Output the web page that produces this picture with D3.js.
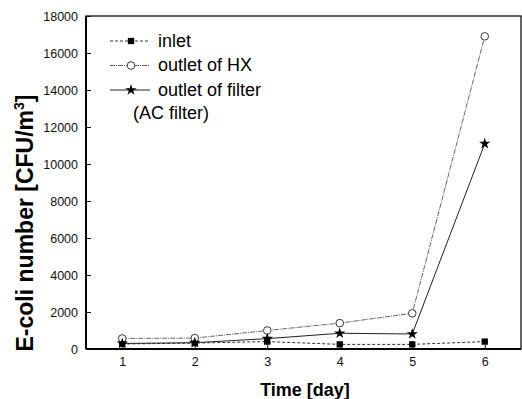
<!DOCTYPE html>
<html>
<head>
<meta charset="utf-8">
<script src="https://cdn.jsdelivr.net/npm/d3@7"></script>
<style>
  body { margin: 0; background: #fff; }
  svg { font-family: Arial, "Liberation Sans", sans-serif; }
</style>
</head>
<body>
<svg id="chart" width="522" height="399"></svg>
<script>
// data
var days = [1, 2, 3, 4, 5, 6];
var inlet = [270, 320, 400, 250, 250, 400];
var outletHX = [570, 590, 1000, 1400, 1930, 16900];
var outletFilter = [300, 340, 560, 850, 810, 11100];
var yTicks = [0, 2000, 4000, 6000, 8000, 10000, 12000, 14000, 16000, 18000];

var svg = d3.select("#chart");

var plotLeft = 86, plotRight = 521, plotTop = 16, plotBottom = 349;

var x = d3.scaleLinear().domain([0.5, 6.5]).range([plotLeft, plotRight]);
var y = d3.scaleLinear().domain([0, 18000]).range([plotBottom, plotTop]);

// frame
svg.append("rect")
    .attr("x", plotLeft).attr("y", plotTop)
    .attr("width", plotRight - plotLeft).attr("height", plotBottom - plotTop)
    .attr("fill", "none").attr("stroke", "#111").attr("stroke-width", 1.3);
svg.append("line")
    .attr("x1", plotLeft).attr("x2", plotLeft).attr("y1", plotTop).attr("y2", plotBottom)
    .attr("stroke", "#000").attr("stroke-width", 2);
svg.append("line")
    .attr("x1", plotLeft).attr("x2", plotRight).attr("y1", plotBottom).attr("y2", plotBottom)
    .attr("stroke", "#000").attr("stroke-width", 2);

// axes
var yAxis = svg.append("g")
    .attr("transform", "translate(" + plotLeft + ",0)")
    .call(d3.axisLeft(y).tickValues(yTicks).tickSize(-5).tickPadding(8).tickFormat(d3.format("d")));
yAxis.select(".domain").remove();
yAxis.selectAll("text").attr("font-size", 12.5).attr("fill", "#111").attr("font-family", "Arial, sans-serif");
yAxis.selectAll("line").attr("stroke", "#111");

var xAxis = svg.append("g")
    .attr("transform", "translate(0," + plotBottom + ")")
    .call(d3.axisBottom(x).tickValues(days).tickSize(-4).tickPadding(8).tickFormat(d3.format("d")));
xAxis.select(".domain").remove();
xAxis.selectAll("text").attr("font-size", 12.5).attr("fill", "#111").attr("font-family", "Arial, sans-serif");
xAxis.selectAll("line").attr("stroke", "#111");

// axis titles
svg.append("text")
    .attr("x", 305).attr("y", 396)
    .attr("text-anchor", "middle")
    .attr("font-size", 18).attr("font-weight", "bold")
    .text("Time [day]");

var yt = svg.append("text")
    .attr("transform", "translate(33,223) rotate(-90)")
    .attr("text-anchor", "middle")
    .attr("font-size", 23).attr("font-weight", "bold");
yt.append("tspan").text("E-coli number [CFU/m");
yt.append("tspan").attr("font-size", 14).attr("dy", -9).text("3");
yt.append("tspan").attr("dy", 9).text("]");

var series = [
    { name: "inlet", values: inlet, dash: "3,2", color: "#333", width: 1, marker: "square" },
    { name: "outlet of HX", values: outletHX, dash: "5,1,1,1", color: "#555", width: 0.9, marker: "circle" },
    { name: "outlet of filter", values: outletFilter, dash: null, color: "#222", width: 1, marker: "star" }
];

var line = d3.line()
    .x(function (d, i) { return x(days[i]); })
    .y(function (d) { return y(d); });

function drawMarker(g, type) {
    if (type === "square") {
        g.append("path").attr("d", d3.symbol(d3.symbolSquare, 40)()).attr("fill", "#000");
    } else if (type === "circle") {
        g.append("circle").attr("r", 3.8).attr("fill", "#fff").attr("stroke", "#222").attr("stroke-width", 0.9);
    } else {
        g.append("path").attr("d", d3.symbol(d3.symbolStar, 40)()).attr("fill", "#000");
    }
}

series.forEach(function (s) {
    svg.append("path")
        .datum(s.values)
        .attr("d", line)
        .attr("fill", "none")
        .attr("stroke", s.color)
        .attr("stroke-width", s.width)
        .attr("stroke-dasharray", s.dash);
});

series.forEach(function (s) {
    s.values.forEach(function (v, i) {
        var g = svg.append("g").attr("transform", "translate(" + x(days[i]) + "," + y(v) + ")");
        drawMarker(g, s.marker);
    });
});

// legend
var legendY = [41, 65.5, 90];
series.forEach(function (s, i) {
    var g = svg.append("g").attr("transform", "translate(0," + legendY[i] + ")");
    g.append("line")
        .attr("x1", 110).attr("x2", 150).attr("y1", 0).attr("y2", 0)
        .attr("stroke", s.color).attr("stroke-width", s.width)
        .attr("stroke-dasharray", s.dash);
    var m = g.append("g").attr("transform", "translate(131,0)");
    drawMarker(m, s.marker);
    g.append("text")
        .attr("x", 158).attr("y", 5.5)
        .attr("font-size", 18)
        .text(s.name);
});
svg.append("text")
    .attr("x", 133).attr("y", 119)
    .attr("font-size", 18)
    .text("(AC filter)");
</script>
</body>
</html>
